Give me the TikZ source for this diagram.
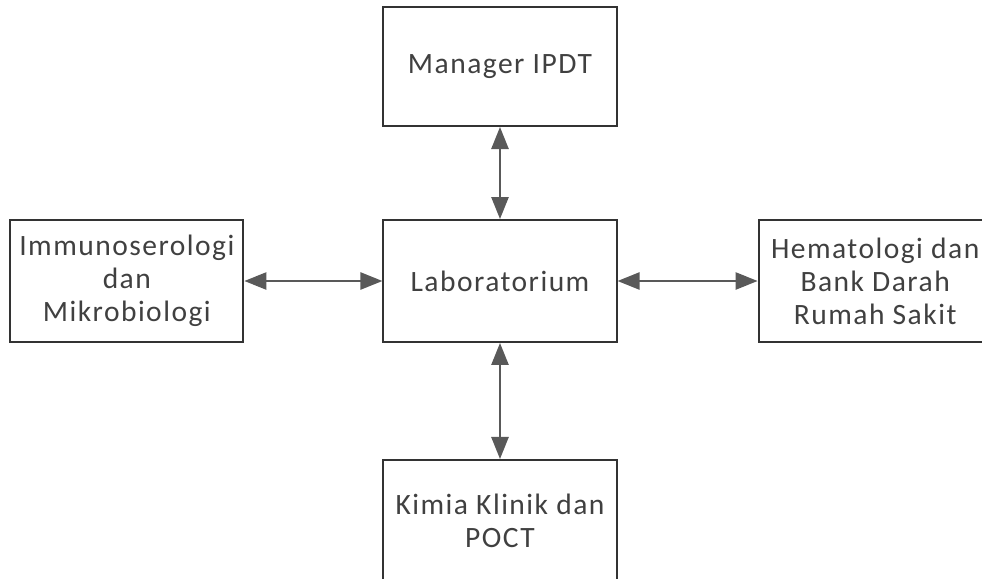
\documentclass[tikz,border=0pt]{standalone}
\usepackage{fontspec}
\setmainfont[LetterSpace=5]{Carlito}
\usetikzlibrary{arrows.meta,positioning}

\begin{document}
\begin{tikzpicture}[
    unit/.style={draw=black!80, line width=1.4pt, align=center, minimum width=5.83cm, minimum height=3.05cm, inner sep=2pt, text=black!75, font=\fontsize{21}{23.5}\selectfont},
    link/.style={{Triangle[length=5.5mm, width=4.3mm]}-{Triangle[length=5.5mm, width=4.3mm]}, line width=1.4pt, draw=black!65, fill=black!65}
]
\clip (-12.5,7.025) rectangle (12.05,-7.425);
\node[unit] (lab) {Laboratorium};
\node[unit, minimum height=2.98cm, above=2.3cm of lab] (manager) {Manager IPDT};
\node[unit, left=3.45cm of lab] (imuno) {Immunoserologi\\dan\\Mikrobiologi};
\node[unit, right=3.5cm of lab] (hemato) {Hematologi dan\\Bank Darah\\Rumah Sakit};
\node[unit, below=2.9cm of lab, text depth=0pt] (kimia) {Kimia Klinik dan\\POCT};
\draw[link] (lab) -- (manager);
\draw[link] (imuno) -- (lab);
\draw[link] (lab) -- (hemato);
\draw[link] (lab) -- (kimia);
\end{tikzpicture}
\end{document}
